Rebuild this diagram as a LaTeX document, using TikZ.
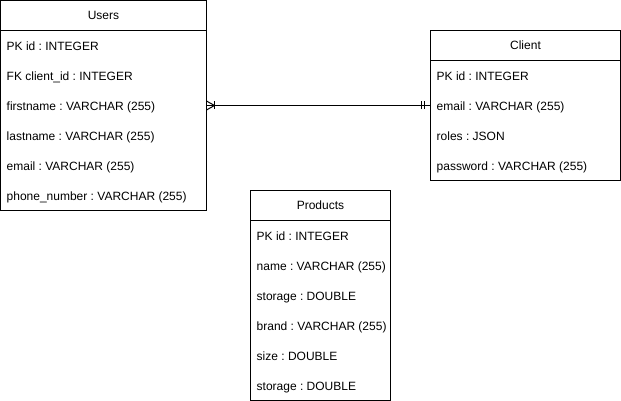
\documentclass[tikz,border=0pt]{standalone}
\usepackage{fontspec}
\setmainfont{Liberation Sans}
\usepackage{tikz}
\usetikzlibrary{arrows,shapes,positioning}
\frenchspacing
\tikzstyle{table}=[draw, line width=1pt, inner sep=0pt, outer sep=0pt, anchor=north west]
\tikzstyle{table head}=[table, minimum height=30pt]
\tikzstyle{field}=[anchor=base west, inner sep=0pt]
\tikzstyle{edge} = [draw,line width=1pt,-]

\begin{document}
\begin{tikzpicture}[x=1pt,y=-1pt,font=\fontsize{12pt}{14pt}\selectfont]
    \useasboundingbox (0,0) rectangle (621,401);
    % First we draw the tables
    \node[table head, minimum width=206pt] (Users) at (0.5,0.5) {Users};
    \node[table, minimum width=206pt, minimum height=180pt] (Users body) at (Users.south west) {};
    \node[table head, minimum width=190pt] (Client) at (430.5,30.5) {Client};
    \node[table, minimum width=190pt, minimum height=120pt] (Client body) at (Client.south west) {};
    \node[table head, minimum width=140pt] (Products) at (250.5,190.5) {Products};
    \node[table, minimum width=140pt, minimum height=180pt] (Products body) at (Products.south west) {};

    % Then the fields
    \foreach \i/\txt in {1/PK id : INTEGER, 2/FK client\_id : INTEGER, 3/firstname : VARCHAR (255),
        4/lastname : VARCHAR (255), 5/email : VARCHAR (255), 6/phone\_number : VARCHAR (255)}
        \node[field] (Users-\i) at (6.5,{20.5+30*\i}) {\txt};
    \foreach \i/\txt in {1/PK id : INTEGER, 2/email : VARCHAR (255), 3/roles : JSON, 4/password : VARCHAR (255)}
        \node[field] (Client-\i) at (436.5,{50.5+30*\i}) {\txt};
    \foreach \i/\txt in {1/PK id : INTEGER, 2/name : VARCHAR (255), 3/storage : DOUBLE,
        4/brand : VARCHAR (255), 5/size : DOUBLE, 6/storage : DOUBLE}
        \node[field] (Products-\i) at (256.5,{210.5+30*\i}) {\txt};

    % Connect Users with Client
    \coordinate (u) at ([yshift=5pt]Users-3.base -| Users body.east);
    \coordinate (c) at ([yshift=5pt]Client-2.base -| Client body.west);
    \path[edge] (u) -- (c);
    \path[edge] ([yshift=4.5pt]u) -- ([xshift=8pt]u) -- ([yshift=-4.5pt]u);
    \path[edge] ([xshift=7.5pt,yshift=4pt]u) -- ([xshift=7.5pt,yshift=-4pt]u);
    \path[edge] ([xshift=-9pt,yshift=4pt]c) -- ([xshift=-9pt,yshift=-4pt]c);
    \path[edge] ([xshift=-6pt,yshift=4pt]c) -- ([xshift=-6pt,yshift=-4pt]c);
\end{tikzpicture}
\end{document}
